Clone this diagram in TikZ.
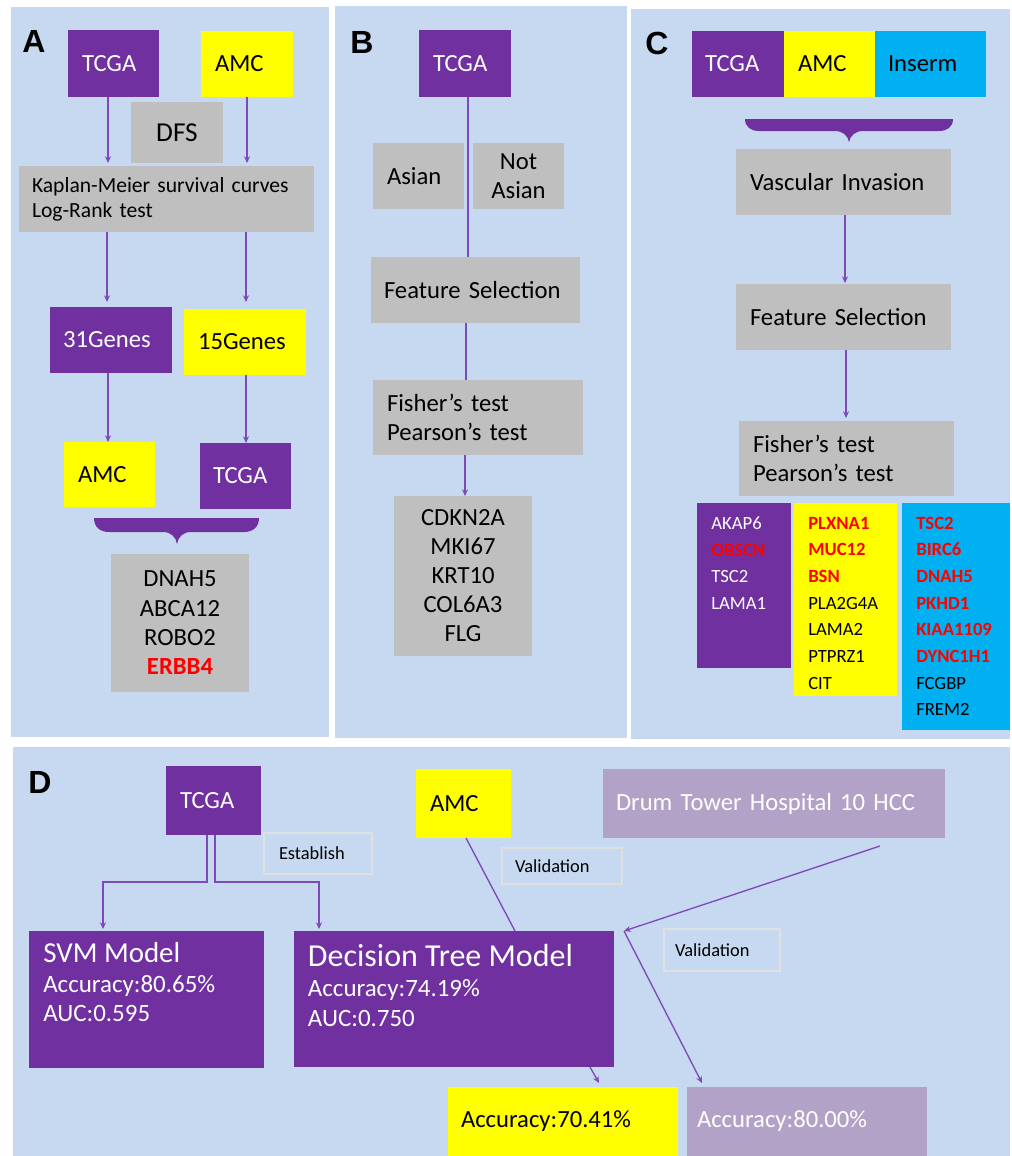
\documentclass[tikz,border=0pt]{standalone}
\usepackage{fontspec}
\setmainfont{Carlito}
\newfontfamily\labfont{Liberation Sans}
\usetikzlibrary{calc,arrows.meta}
\definecolor{bgc}{HTML}{C6D9F0}
\definecolor{pur}{HTML}{7030A0}
\definecolor{lpur}{HTML}{7E4AB8}
\definecolor{yel}{HTML}{FFFF00}
\definecolor{gry}{HTML}{BFBFBF}
\definecolor{cya}{HTML}{00B0F0}
\definecolor{lil}{HTML}{B3A2C7}
\definecolor{rd}{HTML}{FF0000}
\newcommand{\fs}[2]{\fontsize{#1}{#2}\selectfont}
\newcommand{\rb}[1]{\textcolor{rd}{\textbf{#1}}}
\tikzset{
  box/.style={rectangle, inner sep=0pt, outer sep=0pt, draw=none},
  wh/.style 2 args={minimum width=#1*0.75pt, minimum height=#2*0.75pt},
  lft/.style 2 args={text width=#1, inner xsep=#2, align=left},
  pbox/.style={box, fill=pur, text=white},
  ybox/.style={box, fill=yel, text=black},
  gbox/.style={box, fill=gry, text=black},
  cbox/.style={box, fill=cya, text=black},
  lbox/.style={box, fill=lil, text=white},
  tag/.style={box, draw=black!12, line width=0.8pt, text=black, font=\fs{13.8}{16}},
  pan/.style={font=\labfont\bfseries\fs{24}{28}, inner sep=0pt, anchor=base west},
  big/.style={font=\fs{18.5}{22}},
  gtxt/.style={inner sep=0pt, align=left, font=\fs{14}{20}, anchor=north west},
  ltx/.style={inner sep=0pt, anchor=base west, text=white},
  conn/.style={draw=lpur, line width=1pt},
  arr/.style={conn, -{Stealth[length=5pt,width=4.5pt]}},
}
\begin{document}
\begin{tikzpicture}[x=0.75pt,y=-0.75pt]
\useasboundingbox (0,0) rectangle (1012,1156);
\fill[white] (0,0) rectangle (1012,1156);

% ---------------- Panel A
\fill[bgc] (11,7) rectangle (329,737);
\node[pan] (labA) at (22,53) {A};
\node[pbox, wh={91}{67}, big, lft={47.25pt}{10.5pt}] (tcgaA) at (113.5,63.5) {TCGA};
\node[ybox, wh={92}{66}, big, lft={48pt}{10.5pt}] (amcA) at (247,64) {AMC};
\node[gbox, wh={92}{61}, font=\fs{20.5}{24}] (dfs) at (177,132.5) {DFS};
\node[gbox, wh={295}{66}, font=\fs{16.2}{18.75}, lft={201.75pt}{9.75pt}] (km) at (166.5,199) {Kaplan-Meier survival curves\\Log-Rank test};
\node[pbox, wh={122}{66}, big, lft={72pt}{9.75pt}] (g31) at (111,340) {31Genes};
\node[ybox, wh={122}{66}, big, lft={70.5pt}{10.5pt}] (g15) at (245,342) {15Genes};
\node[ybox, wh={91}{65}, big, lft={47.25pt}{10.5pt}] (amcA2) at (109.5,474.5) {AMC};
\node[pbox, wh={91}{66}, big, lft={48.75pt}{9.75pt}] (tcgaA2) at (245.5,476) {TCGA};
\node[gbox, wh={138}{138}, big, align=center] (genA) at (180,623) {DNAH5\\ABCA12\\ROBO2\\\rb{ERBB4}};
\fill[pur] (94,518) -- (259,518) .. controls (259,527) and (253,532) .. (244,532) -- (191,532) .. controls (183,532) and (178,537) .. (177,544) .. controls (176,537) and (171,532) .. (163,532) -- (109,532) .. controls (100,532) and (94,527) .. (94,518) -- cycle;

\draw[arr] ($(tcgaA.south)+(-5.5,0)$) -- ($(tcgaA.south |- km.north)+(-5.5,-3)$);
\draw[arr] (amcA.south) -- ($(amcA.south |- km.north)+(0,-3)$);
\draw[arr] ($(km.south -| g31.north)+(-4,0)$) -- ($(g31.north)+(-4,-5)$);
\draw[arr] ($(km.south -| g15.north)+(1,0)$) -- ($(g15.north)+(1,-7)$);
\draw[arr] ($(g31.south)+(-3,0)$) -- ($(g31.south |- amcA2.north)+(-3,0)$);
\draw[arr] ($(g15.south)+(1,0)$) -- ($(g15.south |- tcgaA2.north)+(1,0)$);

% ---------------- Panel B
\fill[bgc] (335,6) rectangle (627,738);
\node[pan] (labB) at (350,54) {B};
\node[pbox, wh={92}{67}, big, lft={48pt}{10.5pt}] (tcgaB) at (465,63.5) {TCGA};
\node[gbox, wh={91}{66}, big, lft={47.25pt}{10.5pt}] (asian) at (418.5,176) {Asian};
\node[gbox, wh={91}{66}, big, align=center] (notas) at (518.5,176) {Not\\Asian};
\node[gbox, wh={209}{66}, big, lft={137.25pt}{9.75pt}] (fsB) at (475.5,290) {Feature Selection};
\node[gbox, wh={210}{75}, big, lft={136.5pt}{10.5pt}] (fiB) at (478,417.5) {Fisher’s test\\Pearson’s test};
\node[gbox, wh={138}{160}, font=\fs{18.5}{21.75}, align=center] (genB) at (463,576) {CDKN2A\\MKI67\\KRT10\\COL6A3\\FLG};

\draw[conn] ($(tcgaB.south)+(3,0)$) -- ($(tcgaB.south |- fsB.north)+(3,0)$);
\draw[conn] ($(fsB.south)+(-9.5,0)$) -- ($(fsB.south |- fiB.north)+(-9.5,0)$);
\draw[arr] ($(fiB.south)+(-13,0)$) -- ($(fiB.south |- genB.north)+(-13,0)$);

% ---------------- Panel C
\fill[bgc] (631,9) rectangle (1010,739);
\node[pan] (labC) at (645,55) {C};
\node[pbox, wh={92}{66}, big, lft={49.5pt}{9.75pt}] (tcgaC) at (738,64) {TCGA};
\node[ybox, wh={91}{66}, big, lft={47.25pt}{10.5pt}] (amcC) at (829.5,64) {AMC};
\node[cbox, wh={111}{66}, big, lft={63.75pt}{9.75pt}] (insC) at (930.5,64) {Inserm};
\fill[pur] (745,119) -- (953,119) .. controls (953,127) and (947,131) .. (939,131) -- (863,131) .. controls (855,131) and (850,136) .. (849,142) .. controls (848,136) and (843,131) .. (835,131) -- (759,131) .. controls (751,131) and (745,127) .. (745,119) -- cycle;
\node[gbox, wh={215}{66}, big, lft={140.25pt}{10.5pt}] (vasc) at (843.5,182) {Vascular Invasion};
\node[gbox, wh={215}{66}, big, lft={140.25pt}{10.5pt}] (fsC) at (843.5,317) {Feature Selection};
\node[gbox, wh={215}{75}, big, lft={140.25pt}{10.5pt}] (fiC) at (846.5,458.5) {Fisher’s test\\Pearson’s test};
\draw[arr] ($(vasc.south)+(1.5,0)$) -- ($(vasc.south |- fsC.north)+(1.5,-1)$);
\draw[arr] ($(fsC.south)+(2.5,0)$) -- ($(fsC.south |- fiC.north)+(2.5,-3)$);

\node[pbox, wh={94}{165}] (colP) at (744,585.5) {};
\node[ybox, wh={103}{193}] (colY) at (845.5,599.5) {};
\node[cbox, wh={108}{227}] (colC) at (956,616.5) {};
\node[gtxt, text=white] (txP) at ($(colP.north west)+(14,13.7)$) {AKAP6\\\rb{OBSCN}\\TSC2\\LAMA1};
\node[gtxt, text=black] (txY) at ($(colY.north west)+(14,13.7)$) {\rb{PLXNA1}\\\rb{MUC12}\\\rb{BSN}\\PLA2G4A\\LAMA2\\PTPRZ1\\CIT};
\node[gtxt, text=black] (txC) at ($(colC.north west)+(14,13.7)$) {\rb{TSC2}\\\rb{BIRC6}\\\rb{DNAH5}\\\rb{PKHD1}\\\rb{KIAA1109}\\\rb{DYNC1H1}\\FCGBP\\FREM2};

% ---------------- Panel D
\fill[bgc] (13,747) rectangle (1010,1156);
\node[pan] (labD) at (28,793) {D};
\node[pbox, wh={95}{69}, big, lft={50.25pt}{10.5pt}] (tcgaD) at (213.5,800.5) {TCGA};
\node[tag, wh={108}{41}, lft={58.5pt}{11.25pt}] (est) at (318,853.5) {Establish};
\node[ybox, wh={95}{69}, big, lft={50.25pt}{10.5pt}] (amcD) at (463.5,803.5) {AMC};
\node[lbox, wh={342}{69}, big, lft={237pt}{9.75pt}] (drum) at (774,803.5) {Drum Tower Hospital 10 HCC};
\node[tag, wh={120}{36}, lft={70.5pt}{9.75pt}] (val1) at (562,866) {Validation};
\node[tag, wh={116}{42}, lft={70.5pt}{8.25pt}] (val2) at (722,950) {Validation};

\node[pbox, wh={235}{137}] (svm) at (146.5,999.5) {};
\node[ltx, font=\fs{21.7}{26}] (svmT) at ($(svm.north west)+(14,31.7)$) {SVM Model};
\node[ltx, font=\fs{18.7}{22}] (svmA) at ($(svm.north west)+(14,61.7)$) {Accuracy:80.65\%};
\node[ltx, font=\fs{18.7}{22}] (svmU) at ($(svm.north west)+(14,90.7)$) {AUC:0.595};

\node[pbox, wh={320}{136}] (dt) at (454,999) {};
\node[ltx, font=\fs{24}{28}] (dtT) at ($(dt.north west)+(13.7,35)$) {Decision Tree Model};
\node[ltx, font=\fs{18.7}{22}] (dtA) at ($(dt.north west)+(13.7,65.7)$) {Accuracy:74.19\%};
\node[ltx, font=\fs{18.7}{22}] (dtU) at ($(dt.north west)+(13.7,95)$) {AUC:0.750};

\node[ybox, wh={230}{69}, big, lft={153pt}{9.75pt}] (accY) at (563,1121.5) {Accuracy:70.41\%};
\node[lbox, wh={240}{69}, big, lft={165pt}{7.5pt}] (accP) at (807,1121.5) {Accuracy:80.00\%};

\draw[arr] ($(tcgaD.south)+(-6.5,0)$) -- ++(0,47) -| ($(svm.north west)+(74,-2)$);
\draw[arr] ($(tcgaD.south)+(1.5,0)$) -- ++(0,47) -| ($(dt.north west)+(25,-2)$);
\draw[conn] ($(amcD.south)+(2.5,0)$) -- ($(dt.north west)+(221,0)$);
\coordinate (drumout) at ($(drum.south west)+(277,8)$);
\coordinate (junc) at ($(dt.north east)+(10,0)$);
\draw[arr] (drumout) -- (junc);
\draw[arr] (junc) -- ($(accP.north west)+(15,-4)$);
\draw[arr] ($(dt.south east)+(-24,0)$) -- ($(accY.north west)+(151,-4)$);
\end{tikzpicture}
\end{document}
